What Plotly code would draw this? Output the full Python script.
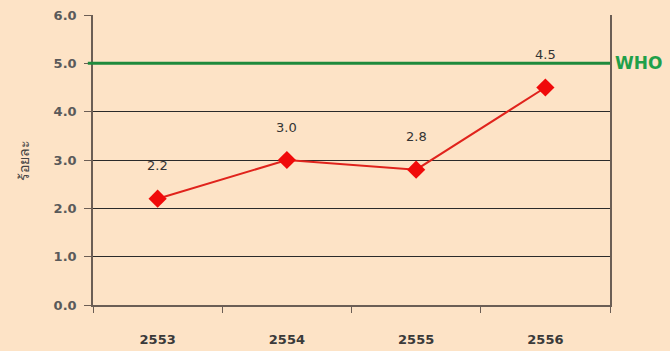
import plotly.graph_objects as go

years = ["2553", "2554", "2555", "2556"]
values = [2.2, 3.0, 2.8, 4.5]
value_labels = ["2.2", "3.0", "2.8", "4.5"]
who_level = 5.0
y_ticks = [0, 1, 2, 3, 4, 5, 6]

xpos = list(range(len(years)))
bounds = [i - 0.5 for i in range(len(years) + 1)]

bg = "#FDE3C6"
fig = go.Figure()
fig.add_trace(go.Scatter(
    x=xpos, y=values, mode="lines+markers",
    line=dict(color="#E0231C", width=2),
    marker=dict(symbol="diamond", size=14, color="#F00A0A"),
    showlegend=False, cliponaxis=False,
))
for xp, v, lab in zip(xpos, values, value_labels):
    fig.add_annotation(x=xp, y=v, text=lab, showarrow=False, yshift=33,
                       font=dict(family="DejaVu Sans", size=13, color="#333333"))

fig.add_shape(type="line", xref="paper", yref="y", x0=-0.01, x1=1, y0=who_level, y1=who_level,
              line=dict(color="#1E8A3C", width=3))
fig.add_annotation(xref="paper", yref="y", x=1.0, xshift=3, y=who_level, text="<b>WHO</b>",
                   xanchor="left", showarrow=False,
                   font=dict(family="DejaVu Sans", size=17, color="#1FA04A"))

fig.update_layout(
    width=670, height=351,
    margin=dict(l=93, r=60, t=15, b=46),
    paper_bgcolor=bg, plot_bgcolor=bg,
    font=dict(family="DejaVu Sans", color="#444444"),
)
fig.update_xaxes(
    range=[bounds[0], bounds[-1]], tickvals=xpos, ticktext=years, ticks="",
    showline=True, linecolor="#6B5E55", linewidth=1.5, automargin=False,
    showgrid=False, zeroline=False, ticklabelstandoff=22,
    minor=dict(tickvals=bounds, ticks="outside", ticklen=6, tickcolor="#6B5E55", showgrid=False),
    tickfont=dict(family="DejaVu Sans", size=13, color="#3A3A3A", weight="bold"),
)
fig.update_yaxes(
    range=[0, 6], tickvals=y_ticks, tickformat=".1f", automargin=False,
    showline=True, mirror=True, linecolor="#6B5E55", linewidth=1.5,
    ticks="outside", ticklen=7, tickcolor="#6B5E55", ticklabelstandoff=5,
    showgrid=True, gridcolor="#2A2A2A", gridwidth=1, zeroline=False,
    tickfont=dict(family="DejaVu Sans", size=13, color="#5A5A5A", weight="bold"),
    title=dict(text="ร้อยละ", font=dict(family="Noto Sans, DejaVu Sans", size=14, color="#444444"), standoff=21),
)
fig.write_html("out.html")
